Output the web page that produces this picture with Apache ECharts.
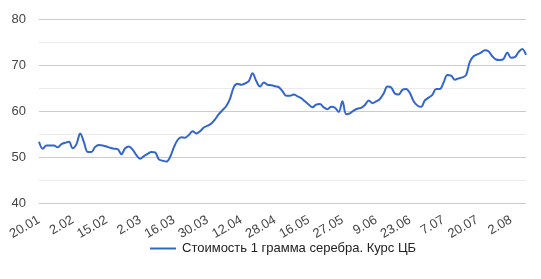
<!DOCTYPE html>
<html>
<head>
<meta charset="utf-8">
<script src="https://cdn.jsdelivr.net/npm/echarts@6/dist/echarts.min.js"></script>
<style>
html,body{margin:0;padding:0;background:#fff;}
#chart{width:541px;height:279px;}
</style>
</head>
<body>
<div id="chart"></div>
<script>
// Tick labels shown on the x axis (one every 9 data points)
const tickLabels = ['20.01','2.02','15.02','2.03','16.03','30.03','12.04','28.04','16.05','27.05','9.06','23.06','7.07','20.07','2.08'];
const labelStep = 9;
const seriesName = 'Стоимость 1 грамма серебра. Курс ЦБ';
// Silver price, RUB per gram
const values = [
  53.3,51.8,52.5,52.5,52.5,52.1,52.8,53.1,53.3,51.9,
  52.8,55.1,53.2,51.1,51.1,52.2,52.6,52.5,52.3,52.0,
  51.8,51.7,50.6,51.9,52.3,51.6,50.4,49.6,50.2,50.7,
  51.1,51.0,49.5,49.2,49.0,50.0,52.1,53.7,54.3,54.2,
  54.8,55.6,55.1,55.6,56.4,56.8,57.3,58.2,59.3,60.2,
  61.1,62.7,65.2,65.9,65.7,66.0,66.5,68.2,66.5,65.3,
  66.2,65.7,65.6,65.4,65.2,64.3,63.3,63.3,63.6,63.2,
  62.8,62.1,61.4,60.8,61.4,61.5,60.8,60.4,60.9,60.7,
  59.8,62.1,59.3,59.5,60.1,60.5,60.7,61.3,62.3,61.7,
  62.1,62.6,63.8,65.3,65.1,63.8,63.6,64.6,64.8,63.9,
  62.1,61.2,60.9,62.3,62.9,63.5,64.8,64.8,66.2,67.8,
  67.7,66.8,67.1,67.3,67.8,70.7,71.9,72.3,72.7,73.2,
  73.0,71.9,71.2,71.1,71.3,72.7,71.6,71.7,72.8,73.5,
  72.2
];
const yMin = 40, yMax = 80, yStep = 10;

const categories = values.map((_, i) => (i % labelStep === 0 && tickLabels[i / labelStep]) ? tickLabels[i / labelStep] : '');

const chart = echarts.init(document.getElementById('chart'), null, {renderer: 'canvas'});
const FONT = '"Liberation Sans", Arial, sans-serif';
chart.setOption({
  animation: false,
  backgroundColor: '#ffffff',
  textStyle: {fontFamily: FONT},
  grid: {left: 39, right: 15, top: 19, bottom: 76, containLabel: false},
  legend: {
    show: true,
    left: 145, top: 237,
    icon: 'rect',
    itemWidth: 26, itemHeight: 2,
    itemGap: 10,
    textStyle: {fontFamily: FONT, fontSize: 13, color: '#222222', padding: [0,0,0,1]},
    data: [seriesName]
  },
  xAxis: {
    type: 'category',
    data: categories,
    boundaryGap: false,
    axisLine: {show: false},
    axisTick: {show: false},
    splitLine: {show: false},
    axisLabel: {
      interval: labelStep - 1,
      rotate: 30,
      margin: 16,
      color: '#444444',
      fontFamily: FONT,
      fontSize: 13
    }
  },
  yAxis: {
    type: 'value',
    min: yMin, max: yMax, interval: yStep,
    axisLine: {show: false},
    axisTick: {show: false},
    axisLabel: {margin: 13, color: '#444444', fontFamily: FONT, fontSize: 13},
    splitLine: {show: true, lineStyle: {color: '#cccccc', width: 1}},
    minorTick: {show: false, splitNumber: 2},
    minorSplitLine: {show: true, lineStyle: {color: '#ebebeb', width: 1}}
  },
  series: [{
    name: seriesName,
    type: 'line',
    data: values,
    smooth: 0.35,
    showSymbol: false,
    symbol: 'none',
    lineStyle: {color: '#3366cc', width: 2},
    itemStyle: {color: '#3366cc'}
  }]
});
</script>
</body>
</html>
